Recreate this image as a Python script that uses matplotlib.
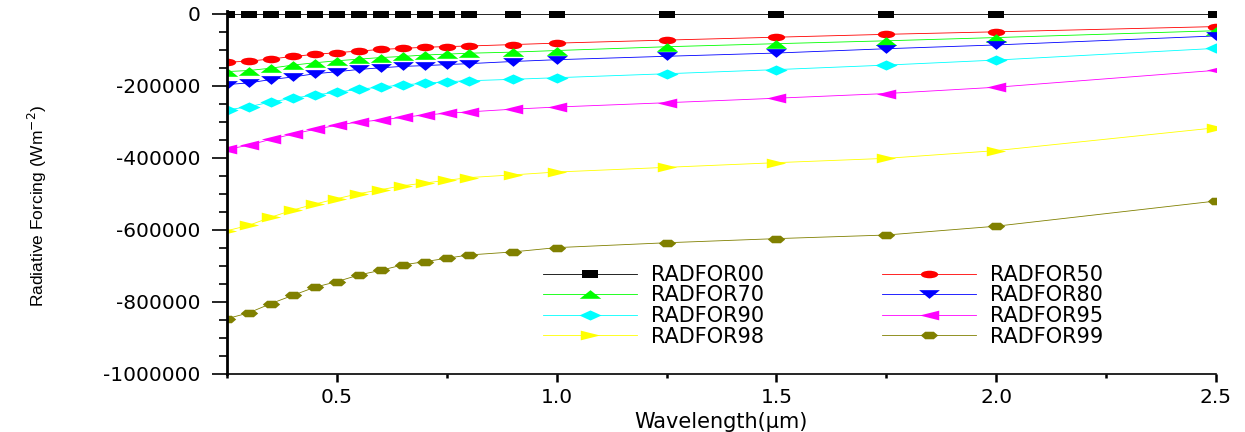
import numpy as np
import matplotlib
matplotlib.use("Agg")
import matplotlib.pyplot as plt
from matplotlib.path import Path
from matplotlib.ticker import MultipleLocator, FixedLocator

# data
wavelength = [0.25, 0.3, 0.35, 0.4, 0.45, 0.5, 0.55, 0.6, 0.65, 0.7,
              0.75, 0.8, 0.9, 1.0, 1.25, 1.5, 1.75, 2.0, 2.5]

radfor00 = [0] * 19
radfor50 = [-134000, -131000, -125000, -118000, -112000, -107500, -103000, -98500, -95500, -92500,
            -90500, -89000, -85000, -81000, -72500, -64500, -56500, -49500, -35000]
radfor70 = [-160000, -157000, -150500, -142000, -135500, -130000, -125500, -121000, -118000, -114000,
            -111500, -109000, -106000, -101500, -91000, -82500, -74500, -65500, -46500]
radfor80 = [-196000, -191500, -182000, -175000, -166000, -160500, -154000, -149500, -145500, -143500,
            -140500, -138000, -132000, -127000, -117500, -108500, -96500, -86000, -61000]
radfor90 = [-266500, -257500, -244500, -234000, -225000, -217500, -209000, -203000, -197000, -192500,
            -188000, -185500, -181500, -177000, -166000, -154500, -142000, -128000, -95500]
radfor95 = [-376000, -364500, -348000, -333500, -320500, -309000, -300000, -294500, -287000, -280500,
            -276000, -272000, -264500, -258500, -246500, -234000, -221000, -203500, -156500]
radfor98 = [-602000, -587000, -564500, -544500, -528000, -513000, -499000, -488000, -477000, -469500,
            -462000, -454500, -447000, -439000, -426000, -413000, -401000, -379500, -316000]
radfor99 = [-846500, -830000, -804500, -781500, -759000, -743500, -725000, -712000, -697000, -688000,
            -678500, -669500, -661000, -649000, -635500, -624000, -614000, -589500, -519500]

labels = ["RADFOR00", "RADFOR50", "RADFOR70", "RADFOR80",
          "RADFOR90", "RADFOR95", "RADFOR98", "RADFOR99"]
series = [radfor00, radfor50, radfor70, radfor80,
          radfor90, radfor95, radfor98, radfor99]
colors = ["#000000", "#ff0000", "#00ff00", "#0000ff",
          "#00ffff", "#ff00ff", "#ffff00", "#808000"]

y_ticks = [0, -200000, -400000, -600000, -800000, -1000000]
x_ticks = [0.5, 1.0, 1.5, 2.0, 2.5]


# markers are stretched sideways like in the original picture
def wide(verts, sx):
    v = np.array(verts, float)
    v[:, 0] *= sx
    return Path(np.vstack([v, v[:1]]), closed=True)


circ = Path.unit_circle()
hexa = [(np.cos(a), np.sin(a)) for a in np.radians(np.arange(0, 360, 60))]
markers = [
    (wide([(-1, -1), (1, -1), (1, 1), (-1, 1)], 2.15), 11.5),
    (Path(circ.vertices * [2.3, 1], circ.codes), 12.5),
    (wide([(0, 1), (-1, -1), (1, -1)], 2.5), 15.5),
    (wide([(0, -1), (-1, 1), (1, 1)], 2.4), 15),
    (wide([(0, 1), (1, 0), (0, -1), (-1, 0)], 2.2), 16),
    (wide([(-1, 0), (1, 1), (1, -1)], 2.0), 14),
    (wide([(1, 0), (-1, 1), (-1, -1)], 2.0), 14),
    (wide(hexa, 2.0), 12.5),
]

plt.rcParams["font.family"] = ["DejaVu Sans"]
plt.rcParams["axes.unicode_minus"] = False

fig = plt.figure(figsize=(12.45, 4.32), dpi=100)
ax = fig.add_axes([0.1823, 0.1343, 0.7944, 0.840])

for vals, lab, col, (mk, ms) in zip(series, labels, colors, markers):
    ax.plot(wavelength, vals, color=col, lw=0.6, marker=mk, ms=ms,
            markeredgewidth=0, label=lab)

ax.set_xlim(0.25, 2.5)
ax.set_ylim(-1000000, 8000)
ax.xaxis.set_major_locator(FixedLocator(x_ticks))
ax.set_xticklabels(["%.1f" % t for t in x_ticks])
ax.xaxis.set_minor_locator(MultipleLocator(0.25))
ax.yaxis.set_major_locator(FixedLocator(y_ticks))
ax.set_yticklabels([str(t) for t in y_ticks])
ax.yaxis.set_minor_locator(MultipleLocator(50000))

for s in ["top", "right"]:
    ax.spines[s].set_visible(False)
ax.spines["left"].set_linewidth(2.0)
ax.spines["bottom"].set_linewidth(1.2)
ax.tick_params(axis="y", which="major", length=10.8, width=1.2, pad=8, labelsize=14.5)
ax.tick_params(axis="y", which="minor", length=5.8, width=1.2)
ax.tick_params(axis="x", which="major", length=5.8, width=1.8, pad=4, labelsize=14.5)
ax.tick_params(axis="x", which="minor", length=3, width=1.8)

ax.set_xlabel("Wavelength(\u03bcm)", fontsize=15, labelpad=4)
ax.set_ylabel("Radiative Forcing (Wm$^{-2}$)", fontsize=12.5,
              family=["Liberation Sans"])
ax.yaxis.set_label_coords(-0.18, 0.462)

# legend filled row by row, as in the original
h, l = ax.get_legend_handles_labels()
order = [0, 2, 4, 6, 1, 3, 5, 7]
ax.legend([h[i] for i in order], [l[i] for i in order],
          ncol=2, loc="upper left", bbox_to_anchor=(0.428, 0.411),
          bbox_transform=fig.transFigure, frameon=False, fontsize=15,
          borderpad=0, labelspacing=0.03, handlelength=4.5,
          handletextpad=0.65, columnspacing=5.7, numpoints=1)

fig.savefig("out.png", dpi=100)
